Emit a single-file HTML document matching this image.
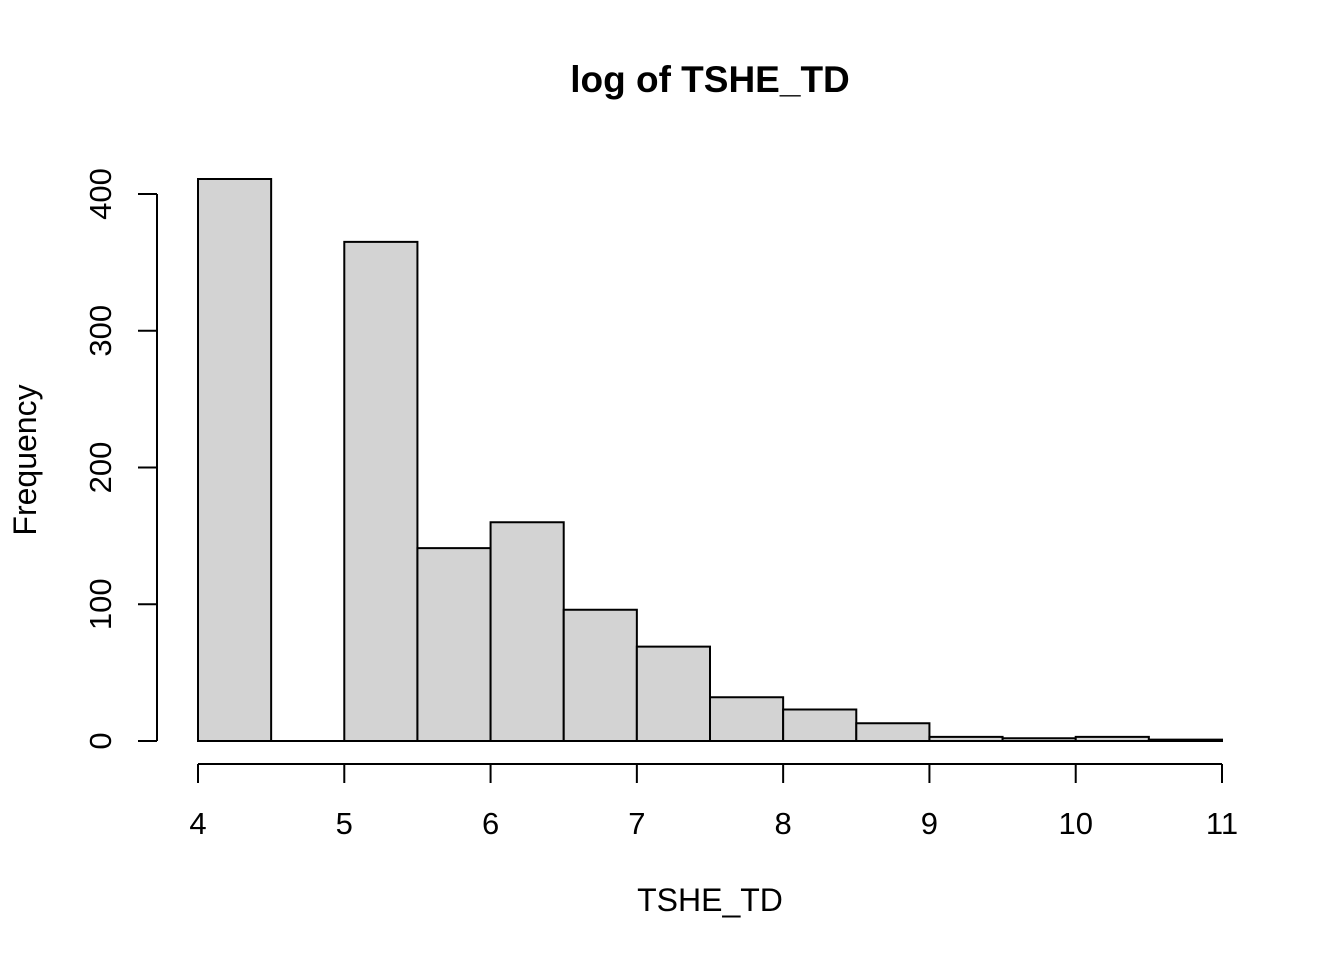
<!DOCTYPE html>
<html><head><meta charset="utf-8"><style>
html,body{margin:0;padding:0;background:#fff;}
svg text{font-family:"Liberation Sans",Arial,sans-serif;fill:#000;}
</style></head><body>
<svg id="chart" width="1344" height="960" viewBox="0 0 1344 960">
<text x="710" y="92" text-anchor="middle" font-size="37" font-weight="bold">log of TSHE_TD</text>
<text x="710" y="911" text-anchor="middle" font-size="32">TSHE_TD</text>
<text transform="translate(36,460) rotate(-90)" text-anchor="middle" font-size="32">Frequency</text>
<g id="bars"></g>
<g id="xaxis"></g>
<g id="yaxis"></g>
</svg>
<script>
const binStarts = [4,4.5,5,5.5,6,6.5,7,7.5,8,8.5,9,9.5,10,10.5];
const counts = [411,0,365,141,160,96,69,32,23,13,3,2,3,1];
const xTicks = [4,5,6,7,8,9,10,11];
const yTicks = [0,100,200,300,400];
const binWidth = 0.5;
const NS = "http://www.w3.org/2000/svg";
function xs(v){return 198 + (v-4)*(1222-198)/7;}
function ys(v){return 741 - v*(741-194)/400;}
function mk(tag, attrs, parent){const e=document.createElementNS(NS,tag);for(const k in attrs)e.setAttribute(k,attrs[k]);parent.appendChild(e);return e;}
const bars=document.getElementById('bars');
binStarts.forEach((b,i)=>{
  const x0=xs(b), x1=xs(b+binWidth), y=ys(counts[i]), y0=ys(0);
  const r=mk('path',{d:'M'+x0+','+y0+'L'+x0+','+y+'L'+x1+','+y+'L'+x1+','+y0+'Z',fill:'#d3d3d3',stroke:'#000','stroke-width':2},bars);
  
  
});
const xa=document.getElementById('xaxis');
mk('line',{x1:xs(xTicks[0]),x2:xs(xTicks[xTicks.length-1]),y1:764,y2:764,stroke:'#000','stroke-width':2},xa);
xTicks.forEach(t=>{
  mk('line',{x1:xs(t),x2:xs(t),y1:764,y2:783,stroke:'#000','stroke-width':2},xa);
  const tx=mk('text',{x:xs(t),y:834,'text-anchor':'middle','font-size':31},xa);
  tx.textContent=t;
  
  
});
const ya=document.getElementById('yaxis');
mk('line',{x1:157,x2:157,y1:ys(yTicks[0]),y2:ys(yTicks[yTicks.length-1]),stroke:'#000','stroke-width':2},ya);
yTicks.forEach(t=>{
  mk('line',{x1:138,x2:157,y1:ys(t),y2:ys(t),stroke:'#000','stroke-width':2},ya);
  const tx=mk('text',{transform:'translate(111,'+ys(t)+') rotate(-90)','text-anchor':'middle','font-size':31},ya);
  tx.textContent=t;
  
  
});
</script>
</body></html>
